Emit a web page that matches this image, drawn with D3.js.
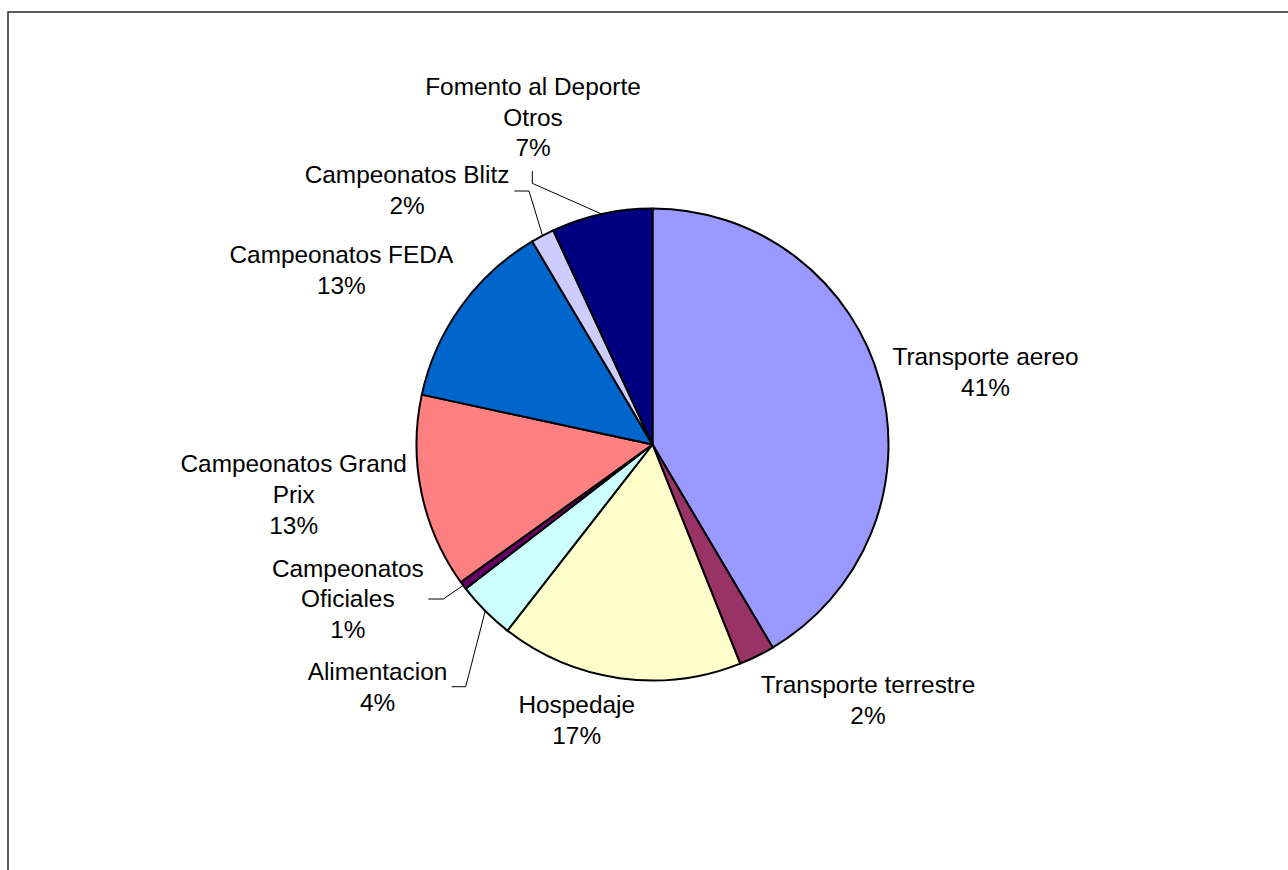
<!DOCTYPE html>
<html>
<head>
<meta charset="utf-8">
<script src="https://cdn.jsdelivr.net/npm/d3@7"></script>
<style>
  html, body { margin: 0; padding: 0; background: #fff; }
  svg { display: block; }
  text { font-family: "Liberation Sans", Arial, sans-serif; font-size: 24.4px; fill: #000; }
</style>
</head>
<body>
<svg id="chart" width="1288" height="870"></svg>
<script>
// ---- data ----
const categories = [
  "Transporte aereo",
  "Transporte terrestre",
  "Hospedaje",
  "Alimentacion",
  "Campeonatos Oficiales",
  "Campeonatos Grand Prix",
  "Campeonatos FEDA",
  "Campeonatos Blitz",
  "Fomento al Deporte Otros"
];
const values = [41.49, 2.45, 16.6, 4.0, 0.55, 13.3, 13.1, 1.6, 6.91];
// label line breaks as drawn in the chart
const labelLines = [
  ["Transporte aereo"],
  ["Transporte terrestre"],
  ["Hospedaje"],
  ["Alimentacion"],
  ["Campeonatos", "Oficiales"],
  ["Campeonatos Grand", "Prix"],
  ["Campeonatos FEDA"],
  ["Campeonatos Blitz"],
  ["Fomento al Deporte", "Otros"]
];
const colors = ["#9999FF", "#993366", "#FFFFCC", "#CCFFFF", "#660066", "#FF8080", "#0066CC", "#CCCCFF", "#000080"];

// ---- layout ----
const W = 1288, H = 870;
const cx = 652.5, cy = 444.5, R = 236;
const lineH = 30.6;
// label block: center x, first baseline y (relative to pie center)
const labelLayout = [
  { dx: 333, dy: -79.5 },
  { dx: 215.5, dy: 248.8 },
  { dx: -75.8, dy: 268.8 },
  { dx: -275, dy: 235.5 },
  { dx: -304.7, dy: 132.2 },
  { dx: -358.8, dy: 27.8 },
  { dx: -311.2, dy: -181.2 },
  { dx: -245.5, dy: -261.2 },
  { dx: -119.5, dy: -349.5 }
];
// leader lines (start near the label; end computed on the slice rim)
const leaders = {
  3: [{ dx: -200.8, dy: 242.2 }, { dx: -186.8, dy: 242.2 }],
  4: [{ dx: -224.2, dy: 154.5 }, { dx: -209.2, dy: 154.5 }],
  7: [{ dx: -138.2, dy: -253.5 }, { dx: -123.5, dy: -253.5 }],
  8: [{ dx: -120.2, dy: -273.5 }, { dx: -120.2, dy: -261.2 }]
};

const svg = d3.select("#chart");

// outer frame
svg.append("rect")
  .attr("x", 8).attr("y", 12)
  .attr("width", W + 40).attr("height", H + 40)
  .attr("fill", "#fff")
  .attr("stroke", "#333")
  .attr("stroke-width", 1.6);

const total = d3.sum(values);
const pie = d3.pie().sort(null).value(d => d)
  .startAngle(0).endAngle(2 * Math.PI);
const arcs = pie(values);
const arc = d3.arc().innerRadius(0).outerRadius(R);

const g = svg.append("g").attr("transform", `translate(${cx},${cy})`);

g.selectAll("path.slice")
  .data(arcs)
  .enter().append("path")
  .attr("class", "slice")
  .attr("d", arc)
  .attr("fill", (d, i) => colors[i])
  .attr("stroke", "#000")
  .attr("stroke-width", 2)
  .attr("stroke-linejoin", "round");

// leader lines
Object.keys(leaders).forEach(k => {
  const i = +k;
  const a = arcs[i];
  const mid = (a.startAngle + a.endAngle) / 2;
  const end = [R * Math.sin(mid), -R * Math.cos(mid)];
  const pts = leaders[k].map(p => [p.dx, p.dy]).concat([end]);
  g.append("path")
    .attr("d", d3.line()(pts))
    .attr("fill", "none")
    .attr("stroke", "#000")
    .attr("stroke-width", 1);
});

// labels
arcs.forEach((a, i) => {
  const pct = Math.round(values[i] / total * 100) + "%";
  const lines = labelLines[i].concat([pct]);
  const L = labelLayout[i];
  const t = g.append("text")
    .attr("text-anchor", "middle")
    .attr("x", L.dx).attr("y", L.dy);
  lines.forEach((ln, j) => {
    t.append("tspan")
      .attr("x", L.dx)
      .attr("y", L.dy + j * lineH)
      .text(ln);
  });
});
</script>
</body>
</html>
